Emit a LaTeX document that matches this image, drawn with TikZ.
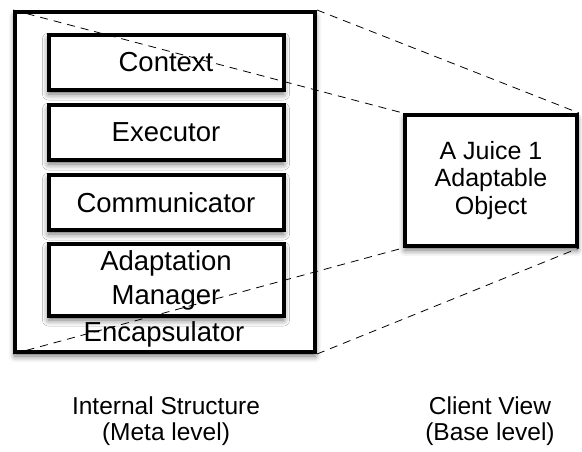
\documentclass[tikz,border=0pt]{standalone}
\usepackage{fontspec}
\setmainfont{Liberation Sans}
\usetikzlibrary{shadows.blur}
\begin{document}
\begin{tikzpicture}[x=1pt,y=-1pt,
  box/.style={draw=black, line width=4pt, fill=white, rectangle, inner sep=0pt,
    blur shadow={shadow xshift=0pt, shadow yshift=-4pt, shadow blur radius=6pt, shadow opacity=60}},
  part/.style={box, minimum width=235pt, align=center,
    font=\fontsize{27.5}{34}\selectfont},
  caption/.style={align=center, font=\fontsize{24.5}{26}\selectfont},
  zoomline/.style={draw=black, line width=0.8pt, dash pattern=on 8pt off 6pt}
]
\useasboundingbox (0,0) rectangle (582,451);
% meta-level object and its parts
\node[box, minimum width=300pt, minimum height=340pt] (outer) at (165,182) {};
\node[part, minimum height=55pt] (context) at (166,62.5) {Context};
\node[part, minimum height=55pt] (executor) at (166,132.5) {Executor};
\node[part, minimum height=55pt] (comm) at (166,202.5) {Communicator};
\node[part, minimum height=72pt] (adapt) at (166,280) {Adaptation\\Manager};
\node[font=\fontsize{27.5}{30}\selectfont] (encap) at (164,334) {Encapsulator};
% base-level object
\node[box, minimum width=172pt, minimum height=131pt, align=center,
  font=\fontsize{25}{27.5}\selectfont] (client) at (491,180.5) {A Juice 1\\Adaptable\\Object};
% projection lines
\draw[zoomline] (outer.north west) -- (client.north west);
\draw[zoomline] (outer.north east) -- (client.north east);
\draw[zoomline] (outer.south west) -- (client.south west);
\draw[zoomline] (outer.south east) -- (client.south east);
% captions
\node[caption] (metacap) at (166,421) {Internal Structure\\(Meta level)};
\node[caption] (basecap) at (490,421) {Client View\\(Base level)};
\end{tikzpicture}
\end{document}
